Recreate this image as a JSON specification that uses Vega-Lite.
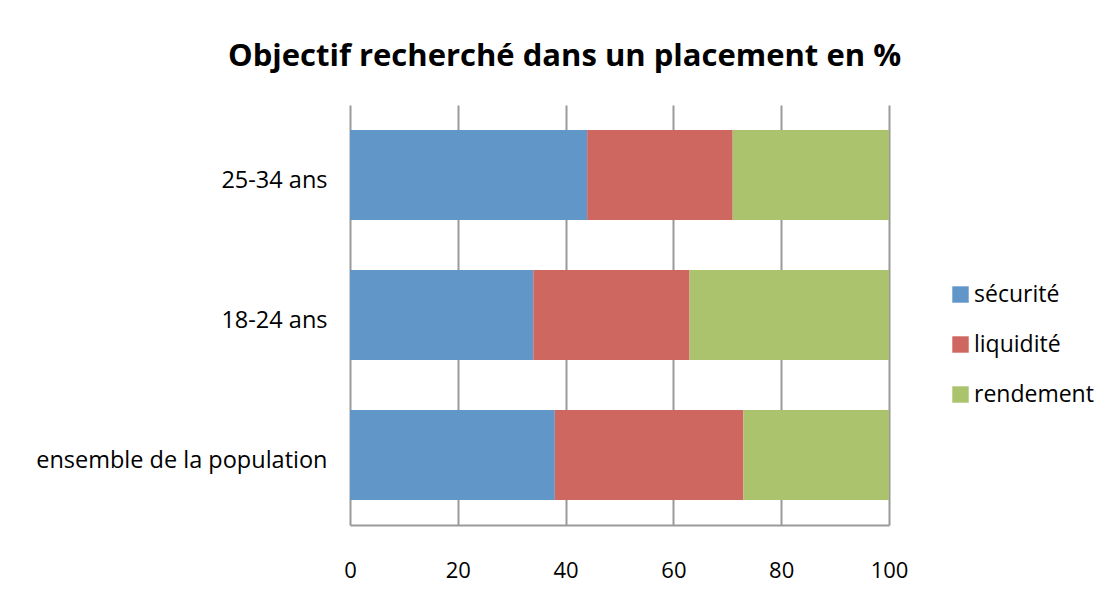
{
  "$schema": "https://vega.github.io/schema/vega-lite/v6.json",
  "width": 539,
  "height": 420,
  "autosize": {"type": "none"},
  "padding": {"left": 350, "top": 105, "right": 223, "bottom": 81},
  "background": "white",
  "title": {
    "text": "Objectif recherché dans un placement en %",
    "font": "Open Sans",
    "fontSize": 31,
    "fontWeight": "bold",
    "color": "#000000",
    "anchor": "middle",
    "dx": -55,
    "offset": 32
  },
  "data": {
    "values": [
      {"groupe": "25-34 ans", "objectif": "sécurité", "ordre": 1, "valeur": 44},
      {"groupe": "25-34 ans", "objectif": "liquidité", "ordre": 2, "valeur": 27},
      {"groupe": "25-34 ans", "objectif": "rendement", "ordre": 3, "valeur": 29},
      {"groupe": "18-24 ans", "objectif": "sécurité", "ordre": 1, "valeur": 34},
      {"groupe": "18-24 ans", "objectif": "liquidité", "ordre": 2, "valeur": 29},
      {"groupe": "18-24 ans", "objectif": "rendement", "ordre": 3, "valeur": 37},
      {"groupe": "ensemble de la population", "objectif": "sécurité", "ordre": 1, "valeur": 38},
      {"groupe": "ensemble de la population", "objectif": "liquidité", "ordre": 2, "valeur": 35},
      {"groupe": "ensemble de la population", "objectif": "rendement", "ordre": 3, "valeur": 27}
    ]
  },
  "mark": {"type": "bar"},
  "encoding": {
    "y": {
      "field": "groupe",
      "type": "nominal",
      "sort": ["25-34 ans", "18-24 ans", "ensemble de la population"],
      "scale": {"paddingInner": 0.357, "paddingOuter": 0.179},
      "axis": {
        "title": null,
        "domain": false,
        "ticks": false,
        "grid": false,
        "labelFont": "Open Sans",
        "labelFontSize": 23.5,
        "labelColor": "#000000",
        "labelPadding": 23,
        "labelLimit": 400,
        "labelOffset": 6
      }
    },
    "x": {
      "field": "valeur",
      "type": "quantitative",
      "stack": "zero",
      "scale": {"domain": [0, 100], "nice": false},
      "axis": {
        "title": null,
        "values": [0, 20, 40, 60, 80, 100],
        "grid": true,
        "gridColor": "#9a9a9a",
        "gridWidth": 2,
        "gridOpacity": 1,
        "domain": true,
        "domainColor": "#9a9a9a",
        "domainWidth": 2,
        "ticks": false,
        "labelFont": "Open Sans",
        "labelFontSize": 22,
        "labelColor": "#000000",
        "labelPadding": 35,
        "labelFlush": false
      }
    },
    "color": {
      "field": "objectif",
      "type": "nominal",
      "scale": {
        "domain": ["sécurité", "liquidité", "rendement"],
        "range": ["#6196c9", "#ce6760", "#aac36c"]
      },
      "legend": {
        "title": null,
        "orient": "none",
        "legendX": 599,
        "legendY": 178,
        "symbolType": "square",
        "symbolSize": 270,
        "symbolStrokeWidth": 0,
        "labelFont": "Open Sans",
        "labelFontSize": 23,
        "labelColor": "#000000",
        "rowPadding": 26,
        "labelOffset": 2
      }
    },
    "order": {"field": "ordre", "type": "quantitative"}
  },
  "config": {
    "view": {"stroke": null}
  }
}
